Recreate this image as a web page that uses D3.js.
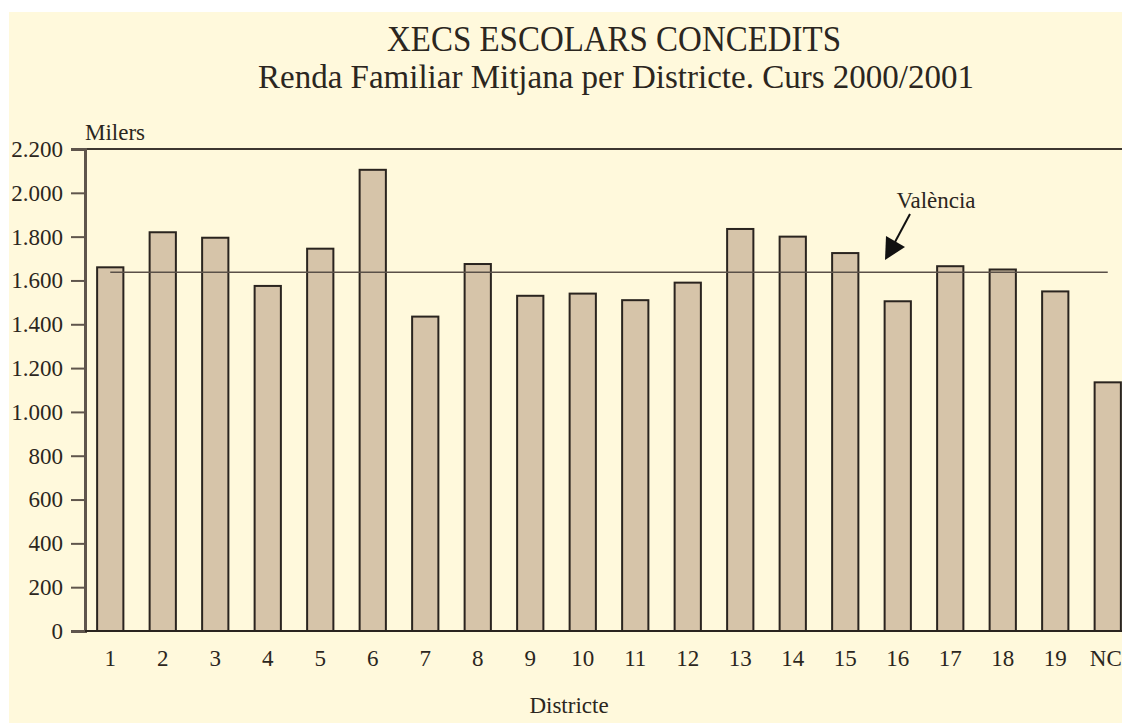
<!DOCTYPE html>
<html>
<head>
<meta charset="utf-8">
<script src="https://cdn.jsdelivr.net/npm/d3@7"></script>
<style>
  body { margin: 0; background: #ffffff; }
  svg { display: block; }
  text { font-family: "Liberation Serif", "DejaVu Serif", serif; fill: #2b2620; }
</style>
</head>
<body>
<div class="chart"></div>
<script>
// districts and average family income (thousands)
var districtes = ["1","2","3","4","5","6","7","8","9","10","11","12","13","14","15","16","17","18","19","NC"];
var renda = [1660, 1820, 1795, 1575, 1745, 2105, 1435, 1675, 1530, 1540, 1510, 1590, 1835, 1800, 1725, 1505, 1665, 1650, 1550, 1135];
var mitjanaValencia = 1637;
var yTicks = [0, 200, 400, 600, 800, 1000, 1200, 1400, 1600, 1800, 2000, 2200];
var titol = "XECS ESCOLARS CONCEDITS";
var subtitol = "Renda Familiar Mitjana per Districte. Curs 2000/2001";

var width = 1122,
height = 724;

var svg = d3.select("div.chart").append("svg")
  .attr("width", width)
  .attr("height", height);

// cream background panel
svg.append("rect")
  .attr("x", 9).attr("y", 12)
  .attr("width", width - 9).attr("height", 711)
  .attr("fill", "#fff9dc");

var xScale = d3.scaleBand()
  .domain(districtes)
  .range([84, 1134])
  .paddingInner(0.5)
  .paddingOuter(0.25);

var yScale = d3.scaleLinear()
  .domain([0, 2200])
  .range([631, 149]);

// titles (squeezed like the original typeface)
svg.append("text")
  .attr("x", 614).attr("y", 51)
  .attr("text-anchor", "middle")
  .attr("font-size", 35)
  .attr("textLength", 454)
  .attr("lengthAdjust", "spacingAndGlyphs")
  .text(titol);

svg.append("text")
  .attr("x", 616).attr("y", 88)
  .attr("text-anchor", "middle")
  .attr("font-size", 33)
  .attr("textLength", 716)
  .attr("lengthAdjust", "spacingAndGlyphs")
  .text(subtitol);

// top frame line
svg.append("line")
  .attr("x1", 85).attr("x2", width)
  .attr("y1", yScale(2200)).attr("y2", yScale(2200))
  .attr("stroke", "#3e3730").attr("stroke-width", 2);

// bars
svg.append("g").selectAll(".bar")
  .data(renda)
  .enter()
  .append("rect")
  .attr("class", "bar")
  .attr("x", function(d, i) { return xScale(districtes[i]); })
  .attr("y", function(d) { return yScale(d); })
  .attr("width", xScale.bandwidth())
  .attr("height", function(d) { return yScale(0) - yScale(d); })
  .attr("fill", "#d6c4a9")
  .attr("stroke", "#2a241f")
  .attr("stroke-width", 2);

// Valencia average line, from first to last bar centre
svg.append("line")
  .attr("x1", xScale(districtes[0]) + xScale.bandwidth() / 2)
  .attr("x2", xScale(districtes[districtes.length - 1]) + xScale.bandwidth() / 2)
  .attr("y1", yScale(mitjanaValencia))
  .attr("y2", yScale(mitjanaValencia))
  .attr("stroke", "#5a5048").attr("stroke-width", 1.5);

// y axis
var yAxis = d3.axisLeft(yScale)
  .tickValues(yTicks)
  .tickSize(14)
  .tickPadding(8)
  .tickFormat(function(d) { return d3.format(",")(d).replace(",", "."); });

var yg = svg.append("g")
  .attr("transform", "translate(85,0)")
  .call(yAxis);
yg.select(".domain").attr("stroke", "#5f554c").attr("stroke-width", 3);
yg.selectAll(".tick line").attr("stroke", "#5f554c").attr("stroke-width", 2);
yg.selectAll(".tick text")
  .attr("font-family", "Liberation Serif, serif")
  .attr("font-size", 23)
  .attr("fill", "#2b2620");

// x axis line
svg.append("line")
  .attr("x1", 85).attr("x2", width)
  .attr("y1", yScale(0)).attr("y2", yScale(0))
  .attr("stroke", "#2a241f").attr("stroke-width", 2);

var xAxis = d3.axisBottom(xScale).tickSize(0).tickPadding(19);
var xg = svg.append("g")
  .attr("transform", "translate(0," + yScale(0) + ")")
  .call(xAxis);
xg.select(".domain").remove();
xg.selectAll(".tick text")
  .attr("font-family", "Liberation Serif, serif")
  .attr("font-size", 23)
  .attr("fill", "#2b2620");
// last label sits at the page edge, pull it in a touch
xg.selectAll(".tick text")
  .filter(function(d) { return d == "NC"; })
  .attr("text-anchor", "end")
  .attr("x", 14);

// axis titles
svg.append("text")
  .attr("x", 115).attr("y", 140)
  .attr("text-anchor", "middle")
  .attr("font-size", 23)
  .text("Milers");

svg.append("text")
  .attr("x", 569).attr("y", 713)
  .attr("text-anchor", "middle")
  .attr("font-size", 23)
  .text("Districte");

// annotation
svg.append("text")
  .attr("x", 936).attr("y", 208)
  .attr("text-anchor", "middle")
  .attr("font-size", 23)
  .text("València");

svg.append("line")
  .attr("x1", 910).attr("y1", 214)
  .attr("x2", 895).attr("y2", 242)
  .attr("stroke", "#111").attr("stroke-width", 2);

svg.append("path")
  .attr("d", "M885,260 L886,236 L905,247 Z")
  .attr("fill", "#111");
</script>
</body>
</html>
